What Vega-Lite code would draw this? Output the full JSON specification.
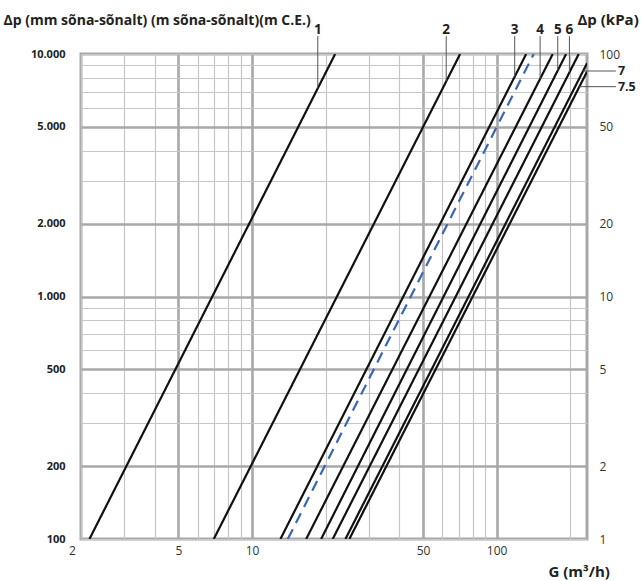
{
  "$schema": "https://vega.github.io/schema/vega-lite/v6.json",
  "width": 506,
  "height": 485,
  "autosize": {"type": "none"},
  "padding": {"left": 81, "top": 54, "right": 54, "bottom": 42},
  "background": "white",
  "config": {
    "font": "Open Sans",
    "view": {"stroke": "#a8a8aa", "strokeWidth": 3}
  },
  "datasets": {
    "curves": [
      {"line": "1", "kind": "solid", "G": 2.166, "dp": 100},
      {"line": "1", "kind": "solid", "G": 21.87, "dp": 10000},
      {"line": "2", "kind": "solid", "G": 6.98, "dp": 100},
      {"line": "2", "kind": "solid", "G": 70.9, "dp": 10000},
      {"line": "3", "kind": "solid", "G": 13.07, "dp": 100},
      {"line": "3", "kind": "solid", "G": 132, "dp": 10000},
      {"line": "3b", "kind": "dashed", "G": 14.0, "dp": 100},
      {"line": "3b", "kind": "dashed", "G": 141.7, "dp": 10000},
      {"line": "4", "kind": "solid", "G": 16.65, "dp": 100},
      {"line": "4", "kind": "solid", "G": 169.5, "dp": 10000},
      {"line": "5", "kind": "solid", "G": 19.17, "dp": 100},
      {"line": "5", "kind": "solid", "G": 192.2, "dp": 10000},
      {"line": "6", "kind": "solid", "G": 21.38, "dp": 100},
      {"line": "6", "kind": "solid", "G": 216.5, "dp": 10000},
      {"line": "7", "kind": "solid", "G": 24.1, "dp": 100},
      {"line": "7", "kind": "solid", "G": 234, "dp": 9155},
      {"line": "7.5", "kind": "solid", "G": 25.0, "dp": 100},
      {"line": "7.5", "kind": "solid", "G": 234, "dp": 8452}
    ],
    "leaders": [
      {"label": "1", "G": 18.57, "dp": 11850, "G2": 18.57, "dp2": 7220},
      {"label": "2", "G": 62.2, "dp": 11850, "G2": 62.2, "dp2": 7709},
      {"label": "3", "G": 118.5, "dp": 11850, "G2": 118.5, "dp2": 8065},
      {"label": "4", "G": 150.5, "dp": 11850, "G2": 150.5, "dp2": 7900},
      {"label": "5", "G": 177.7, "dp": 11850, "G2": 177.7, "dp2": 8553},
      {"label": "6", "G": 198.3, "dp": 11850, "G2": 198.3, "dp2": 8401},
      {"label": "7", "G": 225.5, "dp": 8509, "G2": 307, "dp2": 8509},
      {"label": "7.5", "G": 217.8, "dp": 7333, "G2": 307, "dp2": 7333}
    ],
    "topLabels": [
      {"label": "1", "G": 18.57, "dp": 12090},
      {"label": "2", "G": 62.2, "dp": 12090},
      {"label": "3", "G": 118.5, "dp": 12090},
      {"label": "4", "G": 150.5, "dp": 12090},
      {"label": "5", "G": 177.7, "dp": 12090},
      {"label": "6", "G": 198.3, "dp": 12090}
    ],
    "sideLabels": [
      {"label": "7", "G": 313, "dp": 8509},
      {"label": "7.5", "G": 313, "dp": 7333}
    ]
  },
  "layer": [
    {
      "data": {"name": "curves"},
      "mark": {"type": "line", "strokeWidth": 2.2, "clip": true},
      "encoding": {
        "x": {
          "field": "G", "type": "quantitative",
          "scale": {"type": "log", "domain": [2, 234], "nice": false},
          "axis": {
            "values": [2, 3, 4, 5, 6, 7, 8, 9, 10, 20, 30, 40, 50, 60, 70, 80, 90, 100, 200],
            "grid": true,
            "gridColor": {"condition": {"test": "indexof([5,10,50,100], datum.value) >= 0", "value": "#a8a8aa"}, "value": "#c6c6c8"},
            "gridWidth": {"condition": {"test": "indexof([5,10,50,100], datum.value) >= 0", "value": 2.6}, "value": 1.2},
            "ticks": false,
            "domain": false,
            "labelExpr": "indexof([2,5,10,50,100], datum.value) >= 0 ? '' + datum.value : ''",
            "labelFlush": false,
            "labelOverlap": false,
            "labelPadding": 6,
            "labelFont": "Open Sans",
            "labelFontSize": 12,
            "labelColor": "#333333",
            "labelOffset": {"condition": {"test": "datum.value == 2", "value": -9}, "value": 0},
            "title": "G (m³/h)",
            "titleX": 467,
            "titleY": 37,
            "titleAlign": "left",
            "titleBaseline": "alphabetic",
            "titleFont": "Open Sans",
            "titleFontSize": 15,
            "titleFontWeight": "bold",
            "titleColor": "#222222"
          }
        },
        "y": {
          "field": "dp", "type": "quantitative",
          "scale": {"type": "log", "domain": [100, 10000], "nice": false},
          "axis": {
            "orient": "left",
            "values": [100, 200, 300, 400, 500, 600, 700, 800, 900, 1000, 2000, 3000, 4000, 5000, 6000, 7000, 8000, 9000, 10000],
            "grid": true,
            "gridColor": {"condition": {"test": "indexof([200,500,1000,2000,5000], datum.value) >= 0", "value": "#a8a8aa"}, "value": "#c6c6c8"},
            "gridWidth": {"condition": {"test": "indexof([200,500,1000,2000,5000], datum.value) >= 0", "value": 2.6}, "value": 1.2},
            "ticks": false,
            "domain": false,
            "labelExpr": "indexof([100,200,500,1000,2000,5000,10000], datum.value) >= 0 ? replace(format(datum.value, ',d'), ',', '.') : ''",
            "labelOverlap": false,
            "labelPadding": 16,
            "labelFont": "Open Sans",
            "labelFontSize": 11,
            "labelFontWeight": "bold",
            "labelColor": "#222222",
            "title": "Δp (mm sõna-sõnalt) (m sõna-sõnalt)(m C.E.)",
            "titleAngle": 0,
            "titleX": -78,
            "titleY": -30,
            "titleAlign": "left",
            "titleBaseline": "alphabetic",
            "titleFont": "Open Sans",
            "titleFontSize": 14,
            "titleFontWeight": "bold",
            "titleColor": "#222222"
          }
        },
        "detail": {"field": "line"},
        "color": {
          "field": "kind", "type": "nominal",
          "scale": {"domain": ["solid", "dashed"], "range": ["#111111", "#3a66b5"]},
          "legend": null
        },
        "strokeDash": {
          "field": "kind", "type": "nominal",
          "scale": {"domain": ["solid", "dashed"], "range": [[1, 0], [11, 7]]},
          "legend": null
        }
      }
    },
    {
      "data": {"name": "leaders"},
      "mark": {"type": "rule", "color": "#555555", "strokeWidth": 1, "clip": false},
      "encoding": {
        "x": {"field": "G", "type": "quantitative", "scale": {"type": "log", "domain": [2, 234], "nice": false}},
        "x2": {"field": "G2"},
        "y": {
          "field": "dp", "type": "quantitative",
          "scale": {"type": "log", "domain": [100, 10000], "nice": false},
          "axis": {
            "orient": "right",
            "values": [100, 200, 500, 1000, 2000, 5000, 10000],
            "grid": false,
            "ticks": false,
            "domain": false,
            "labelExpr": "format(datum.value / 100, 'd')",
            "labelOverlap": false,
            "labelPadding": 12,
            "labelFont": "Open Sans",
            "labelFontSize": 12,
            "labelColor": "#333333",
            "title": "Δp (kPa)",
            "titleAngle": 0,
            "titleX": -10,
            "titleY": -30,
            "titleAlign": "left",
            "titleBaseline": "alphabetic",
            "titleFont": "Open Sans",
            "titleFontSize": 15,
            "titleFontWeight": "bold",
            "titleColor": "#222222"
          }
        },
        "y2": {"field": "dp2"}
      }
    },
    {
      "data": {"name": "topLabels"},
      "mark": {"type": "text", "align": "center", "baseline": "alphabetic", "font": "Open Sans", "fontSize": 13.5, "fontWeight": "bold", "color": "#222222", "clip": false},
      "encoding": {
        "x": {"field": "G", "type": "quantitative", "scale": {"type": "log", "domain": [2, 234], "nice": false}},
        "y": {"field": "dp", "type": "quantitative", "scale": {"type": "log", "domain": [100, 10000], "nice": false}, "axis": null},
        "text": {"field": "label"}
      }
    },
    {
      "data": {"name": "sideLabels"},
      "mark": {"type": "text", "align": "left", "baseline": "middle", "font": "Open Sans", "fontSize": 12.5, "fontWeight": "bold", "color": "#222222", "clip": false},
      "encoding": {
        "x": {"field": "G", "type": "quantitative", "scale": {"type": "log", "domain": [2, 234], "nice": false}},
        "y": {"field": "dp", "type": "quantitative", "scale": {"type": "log", "domain": [100, 10000], "nice": false}, "axis": null},
        "text": {"field": "label"}
      }
    }
  ],
  "resolve": {"axis": {"y": "independent"}}
}
